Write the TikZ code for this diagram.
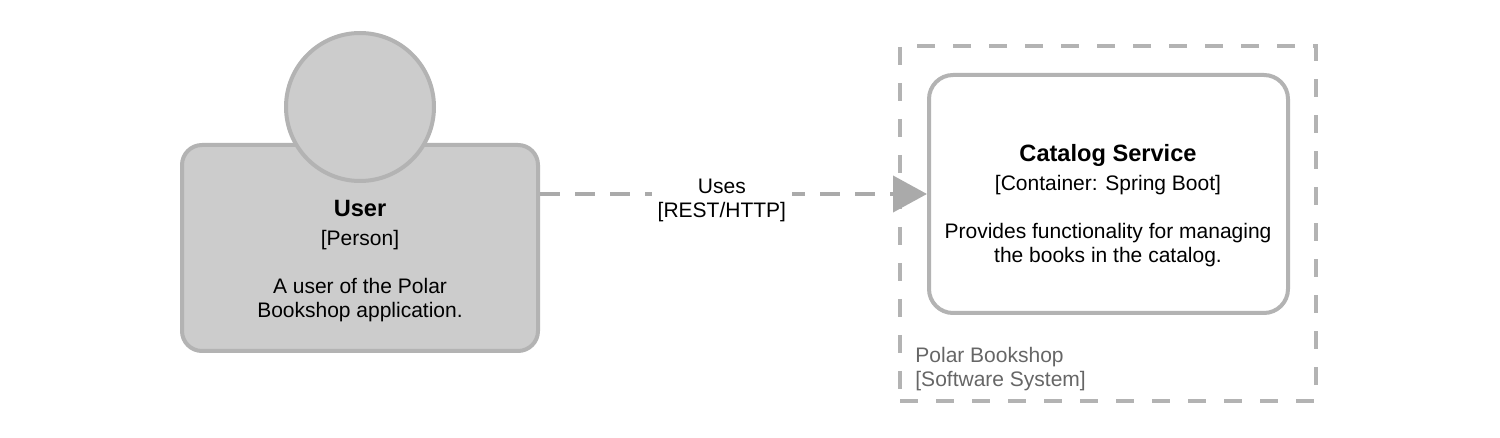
\documentclass[tikz,border=0pt]{standalone}
\usepackage{fontspec}
\setmainfont{Liberation Sans}
\usetikzlibrary{arrows.meta}
\definecolor{edgegray}{HTML}{B3B3B3}
\definecolor{persongray}{HTML}{CCCCCC}
\definecolor{linkgray}{HTML}{AAAAAA}
\definecolor{labelgray}{HTML}{666666}

\begin{document}
\begin{tikzpicture}[x=0.5pt,y=-0.5pt,
	box/.style={draw=edgegray, line width=2pt, rectangle, inner sep=0pt},
	txt/.style={align=center, inner sep=0pt, font=\fontsize{10.5}{12}\selectfont},
	rel/.style={draw=linkgray, line width=2pt, dash pattern=on 10pt off 7.5pt, -{Triangle[length=17pt,width=18pt]}}]
	\useasboundingbox (0,0) rectangle (1500,438);
	\node[box, dash pattern=on 9pt off 9pt, minimum width=208pt, minimum height=177.5pt] (system) at (1108,223.5) {};
	\node[txt, align=left, text=labelgray, anchor=west] (systemlabel) at (915,369) {Polar Bookshop\\{[Software System]}};
	\node[box, fill=persongray, rounded corners=10pt, minimum width=178pt, minimum height=103pt] (user) at (360,248) {};
	\node[box, fill=persongray, circle, minimum size=74pt] (head) at (360,107) {};
	\node[txt] (userlabel) at (360,261) {{\fontsize{11.8}{12}\selectfont\bfseries User}\\[2.5pt]{[Person]}\\[12pt]A user of the Polar\\Bookshop application.};
	\node[box, fill=white, rounded corners=12pt, minimum width=179.5pt, minimum height=119pt] (catalog) at (1108.5,194) {};
	\node[txt] (cataloglabel) at (1108,205.5) {{\fontsize{11.8}{12}\selectfont\bfseries Catalog Service}\\[2.5pt]{[Container: Spring Boot]}\\[12pt]Provides functionality for managing\\the books in the catalog.};
	\draw[rel] (user.east |- catalog.west) -- node[txt, pos=0.47, yshift=-3pt, fill=white, inner sep=3pt] (uses) {Uses\\{[REST/HTTP]}} (catalog.west);
\end{tikzpicture}
\end{document}
